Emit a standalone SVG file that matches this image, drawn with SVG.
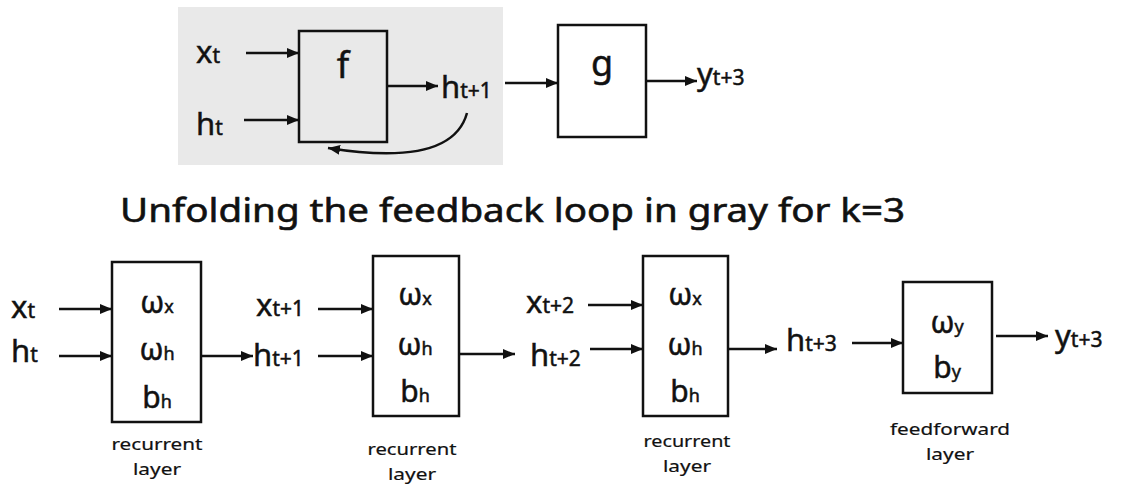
<svg xmlns="http://www.w3.org/2000/svg" width="1122" height="493" viewBox="0 0 1122 493">
  <style>
    .bg { fill: #e9e9e9; }
    .box { fill: none; stroke: #111; stroke-width: 2.5; }
    .wire { fill: none; stroke: #111; stroke-width: 2.5; marker-end: url(#arrow); }
    text { font-family: "Noto Sans", "DejaVu Sans", sans-serif; fill: #111; stroke: #111; stroke-width: 0.5; }
    .var { font-size: 31px; }
    .sub { font-size: 21px; }
    .param { font-size: 30px; text-anchor: middle; }
    .psub { font-size: 18px; }
    .fn { font-size: 36px; text-anchor: middle; }
    .label { font-size: 17px; text-anchor: middle; stroke-width: 0.2; }
    .title { font-size: 33px; stroke-width: 0.6; }
  </style>
  <defs>
    <marker id="arrow" markerUnits="userSpaceOnUse" markerWidth="13" markerHeight="11" refX="12" refY="5" orient="auto">
      <path d="M0,0 L12,5 L0,10 z" fill="#111"/>
    </marker>
  </defs>

  <!-- feedback loop region -->
  <rect class="bg" x="178" y="7" width="325" height="158"/>

  <g id="node-f">
    <rect class="box" x="299" y="31" width="88" height="111"/>
    <text class="fn" x="343" y="78">f</text>
  </g>
  <g id="node-g">
    <rect class="box" x="558" y="25" width="88" height="112"/>
    <text class="fn" x="602" y="76">g</text>
  </g>

  <g id="top-labels">
    <text class="var" x="196" y="63">x<tspan class="sub">t</tspan></text>
    <text class="var" x="196" y="135">h<tspan class="sub">t</tspan></text>
    <text class="var" x="441" y="98">h<tspan class="sub">t+1</tspan></text>
    <text class="var" x="697" y="85">y<tspan class="sub">t+3</tspan></text>
  </g>

  <text class="title" x="120" y="222" textLength="785" lengthAdjust="spacingAndGlyphs">Unfolding the feedback loop in gray for k=3</text>

  <!-- unrolled network -->
  <g id="layer-1">
    <rect class="box" x="112" y="262" width="89" height="160"/>
    <text class="param" x="157" y="313">ω<tspan class="psub">x</tspan></text>
    <text class="param" x="157" y="360">ω<tspan class="psub">h</tspan></text>
    <text class="param" x="157" y="408">b<tspan class="psub">h</tspan></text>
    <text class="label" x="157" y="450" textLength="91" lengthAdjust="spacingAndGlyphs">recurrent</text>
    <text class="label" x="157" y="475" textLength="48" lengthAdjust="spacingAndGlyphs">layer</text>
  </g>
  <g id="layer-2">
    <rect class="box" x="373" y="256" width="86" height="160"/>
    <text class="param" x="415" y="305">ω<tspan class="psub">x</tspan></text>
    <text class="param" x="415" y="355">ω<tspan class="psub">h</tspan></text>
    <text class="param" x="415" y="402">b<tspan class="psub">h</tspan></text>
    <text class="label" x="412" y="455" textLength="89" lengthAdjust="spacingAndGlyphs">recurrent</text>
    <text class="label" x="412" y="480" textLength="48" lengthAdjust="spacingAndGlyphs">layer</text>
  </g>
  <g id="layer-3">
    <rect class="box" x="643" y="256" width="85" height="160"/>
    <text class="param" x="685" y="305">ω<tspan class="psub">x</tspan></text>
    <text class="param" x="685" y="355">ω<tspan class="psub">h</tspan></text>
    <text class="param" x="685" y="402">b<tspan class="psub">h</tspan></text>
    <text class="label" x="687" y="447" textLength="87" lengthAdjust="spacingAndGlyphs">recurrent</text>
    <text class="label" x="687" y="472" textLength="48" lengthAdjust="spacingAndGlyphs">layer</text>
  </g>
  <g id="layer-out">
    <rect class="box" x="903" y="282" width="89" height="111"/>
    <text class="param" x="947" y="333">ω<tspan class="psub">y</tspan></text>
    <text class="param" x="947" y="378">b<tspan class="psub">y</tspan></text>
    <text class="label" x="950" y="435" textLength="120" lengthAdjust="spacingAndGlyphs">feedforward</text>
    <text class="label" x="950" y="460" textLength="48" lengthAdjust="spacingAndGlyphs">layer</text>
  </g>

  <g id="bottom-labels">
    <text class="var" x="11" y="318">x<tspan class="sub">t</tspan></text>
    <text class="var" x="11" y="362">h<tspan class="sub">t</tspan></text>
    <text class="var" x="256" y="316">x<tspan class="sub">t+1</tspan></text>
    <text class="var" x="253" y="366">h<tspan class="sub">t+1</tspan></text>
    <text class="var" x="526" y="313">x<tspan class="sub">t+2</tspan></text>
    <text class="var" x="530" y="366">h<tspan class="sub">t+2</tspan></text>
    <text class="var" x="786" y="351">h<tspan class="sub">t+3</tspan></text>
    <text class="var" x="1055" y="347">y<tspan class="sub">t+3</tspan></text>
  </g>

  <g id="connectors">
    <line class="wire" x1="246" y1="53" x2="299" y2="53"/>
    <line class="wire" x1="244" y1="120" x2="299" y2="120"/>
    <line class="wire" x1="387" y1="86" x2="438" y2="86"/>
    <line class="wire" x1="505" y1="83" x2="558" y2="83"/>
    <line class="wire" x1="646" y1="81" x2="697" y2="81"/>
    <path class="wire" d="M467,113 Q452,168 328,148"/>

    <line class="wire" x1="59" y1="309" x2="112" y2="309"/>
    <line class="wire" x1="59" y1="356" x2="112" y2="356"/>
    <line class="wire" x1="201" y1="356" x2="253" y2="356"/>
    <line class="wire" x1="318" y1="309" x2="373" y2="309"/>
    <line class="wire" x1="318" y1="356" x2="373" y2="356"/>
    <line class="wire" x1="459" y1="354" x2="515" y2="354"/>
    <line class="wire" x1="588" y1="305" x2="643" y2="305"/>
    <line class="wire" x1="590" y1="349" x2="643" y2="349"/>
    <line class="wire" x1="728" y1="349" x2="777" y2="349"/>
    <line class="wire" x1="852" y1="343" x2="903" y2="343"/>
    <line class="wire" x1="996" y1="336" x2="1048" y2="336"/>
  </g>
</svg>
